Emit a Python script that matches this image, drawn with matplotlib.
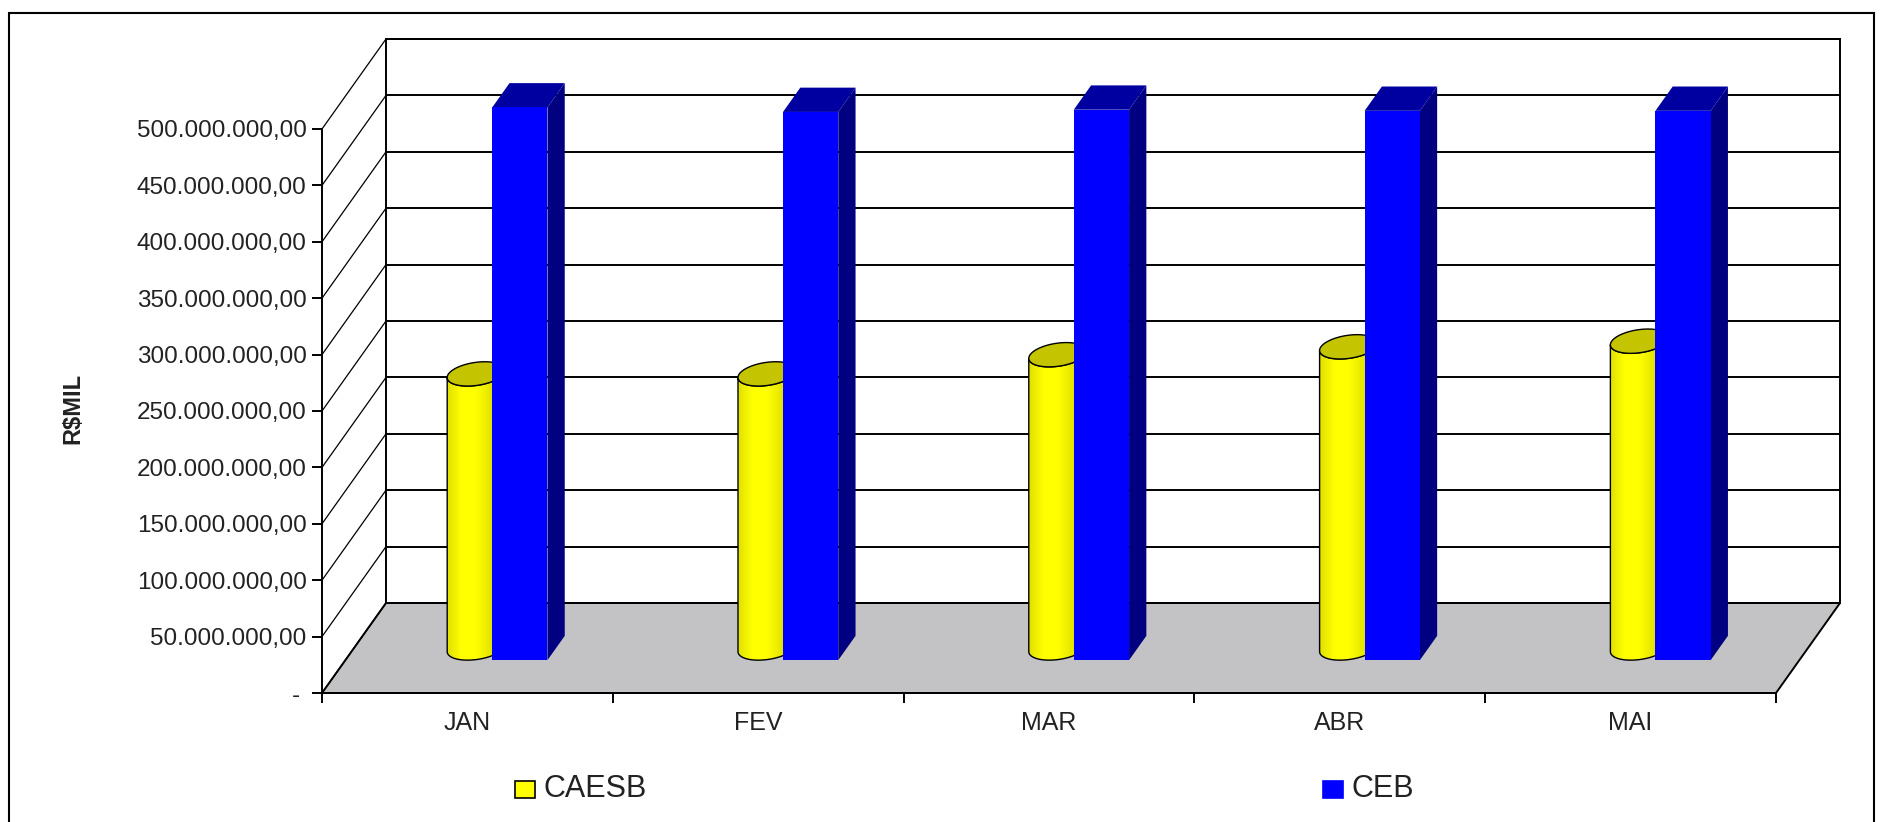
import numpy as np
import matplotlib
matplotlib.use("Agg")
import matplotlib.pyplot as plt
from matplotlib.patches import Polygon, Rectangle
from matplotlib.colors import LinearSegmentedColormap
from matplotlib.ticker import FuncFormatter, MultipleLocator, FixedLocator

plt.rcParams['font.family'] = ['Liberation Sans', 'DejaVu Sans']

months = ["JAN", "FEV", "MAR", "ABR", "MAI"]
series = ["CAESB", "CEB"]
caesb = [243e6, 243e6, 260e6, 267e6, 272e6]
ceb = [490e6, 486e6, 488e6, 487e6, 487e6]
yticks = np.arange(0, 500e6 + 1, 50e6)

W, H = 1881, 822
fig = plt.figure(figsize=(W / 100, H / 100), dpi=100)
ax = fig.add_axes([322 / W, 129 / H, 1454 / W, 564 / H])
n = len(months)
ymax = 500e6
ax.set_xlim(0, n)
ax.set_ylim(0, ymax)

# depth vector (oblique 3d look) in data units
DX = 64 / (1454 / n)
DY = 90 / 564 * ymax


def P(x, y, f):
    return (x + f * DX, y + f * DY)


# floor, back wall, left wall
ax.add_patch(Polygon([P(0, 0, 0), P(n, 0, 0), P(n, 0, 1), P(0, 0, 1)],
                     closed=True, fc="#c3c3c5", ec="black", lw=1.4, zorder=1, clip_on=False))
ax.add_patch(Polygon([P(0, 0, 1), P(n, 0, 1), P(n, ymax, 1), P(0, ymax, 1)],
                     closed=True, fc="white", ec="black", lw=1.4, zorder=1, clip_on=False))
for v in yticks:
    xs, ys = zip(P(0, v, 1), P(n, v, 1))
    ax.plot(xs, ys, color="black", lw=1.4, zorder=2, clip_on=False)
    xs, ys = zip(P(0, v, 0), P(0, v, 1))
    ax.plot(xs, ys, color="black", lw=0.9, zorder=2, clip_on=False)

cyl_cmap = LinearSegmentedColormap.from_list(
    "cyl", ["#e0e000", "#ffff00", "#ffff00", "#e6e600", "#c8c800"])

f0, f1 = 0.365, 0.635
bx0, bx1 = 0.505, 0.695
cx, r, fc, fr = 0.42, 0.095, 0.5, 0.135

for i in range(n):
    z = 3 + i * 3
    # CAESB cylinder
    a = r * 291
    b = fr * 64
    t0 = np.arctan2(b, a)
    tf = np.linspace(t0 + np.pi, t0 + 2 * np.pi, 80)
    tt = np.linspace(0, 2 * np.pi, 120)
    bottom = [P(i + cx + r * np.cos(t), 0, fc + fr * np.sin(t)) for t in tf]
    top_front = [P(i + cx + r * np.cos(t), caesb[i], fc + fr * np.sin(t)) for t in tf]
    body = Polygon(bottom + top_front[::-1], closed=True, fc="none", ec="black",
                   lw=1.0, zorder=z + 0.5, clip_on=False)
    ax.add_patch(body)
    xs = [p[0] for p in bottom]
    grad = np.linspace(0, 1, 100).reshape(1, -1)
    im = ax.imshow(grad, cmap=cyl_cmap, aspect="auto", zorder=z,
                   extent=[min(xs), max(xs), 0, caesb[i] + DY], clip_on=True)
    im.set_clip_path(body)
    top = [P(i + cx + r * np.cos(t), caesb[i], fc + fr * np.sin(t)) for t in tt]
    ax.add_patch(Polygon(top, closed=True, fc="#c4c400", ec="black", lw=1.0,
                         zorder=z + 0.6, clip_on=False))

    # CEB box
    v = ceb[i]
    x0, x1 = i + bx0, i + bx1
    ax.add_patch(Polygon([P(x1, 0, f0), P(x1, 0, f1), P(x1, v, f1), P(x1, v, f0)],
                         closed=True, fc="#000080", ec="none", zorder=z + 1, clip_on=False))
    ax.add_patch(Polygon([P(x0, v, f0), P(x1, v, f0), P(x1, v, f1), P(x0, v, f1)],
                         closed=True, fc="#0000a0", ec="none", zorder=z + 1, clip_on=False))
    ax.add_patch(Polygon([P(x0, 0, f0), P(x1, 0, f0), P(x1, v, f0), P(x0, v, f0)],
                         closed=True, fc="#0000ff", ec="none", zorder=z + 1.5, clip_on=False))

# axes styling
for s in ["top", "right"]:
    ax.spines[s].set_visible(False)
for s in ["left", "bottom"]:
    ax.spines[s].set_linewidth(1.4)
    ax.spines[s].set_zorder(30)


def fmt(v, pos):
    if v == 0:
        return "- "
    return f"{v:,.2f}".replace(",", "X").replace(".", ",").replace("X", ".")


ax.yaxis.set_major_locator(FixedLocator(yticks))
ax.yaxis.set_major_formatter(FuncFormatter(fmt))
ax.tick_params(axis="y", direction="out", length=7, width=1.4, labelsize=17.5,
               labelcolor="#222222", pad=4)
ax.xaxis.set_major_locator(MultipleLocator(1))
ax.xaxis.set_major_formatter(FuncFormatter(lambda v, p: ""))
ax.xaxis.set_minor_locator(FixedLocator(np.arange(n) + 0.5))
ax.set_xticklabels(months, minor=True)
ax.tick_params(axis="x", which="major", direction="out", length=7, width=1.4)
ax.tick_params(axis="x", which="minor", length=0, labelsize=18, labelcolor="#222222", pad=13)
ax.set_xlim(0, n)
ax.set_ylim(0, ymax)

fig.text(73 / W, 1 - 408 / H, "R\\$MIL", rotation=90, weight="bold", fontsize=17,
         ha="center", va="center", color="#222222")

# legend
leg_colors = ["#ffff00", "#0000ff"]
leg_edges = ["black", "#0000ff"]
leg_x = [515, 1323]
for name, c, e, lx in zip(series, leg_colors, leg_edges, leg_x):
    fig.add_artist(Rectangle((lx / W, 1 - 798 / H), 20 / W, 17 / H, transform=fig.transFigure,
                             fc=c, ec=e, lw=1.2))
    fig.text((lx + 29) / W, 1 - 789 / H, name, fontsize=22, ha="left", va="center",
             color="#222222")

# outer frame
fig.add_artist(Rectangle((9 / W, -0.02), 1865 / W, (H - 13) / H + 0.02,
                         transform=fig.transFigure, fill=False, ec="black", lw=1.5))

fig.savefig("out.png", dpi=100)
